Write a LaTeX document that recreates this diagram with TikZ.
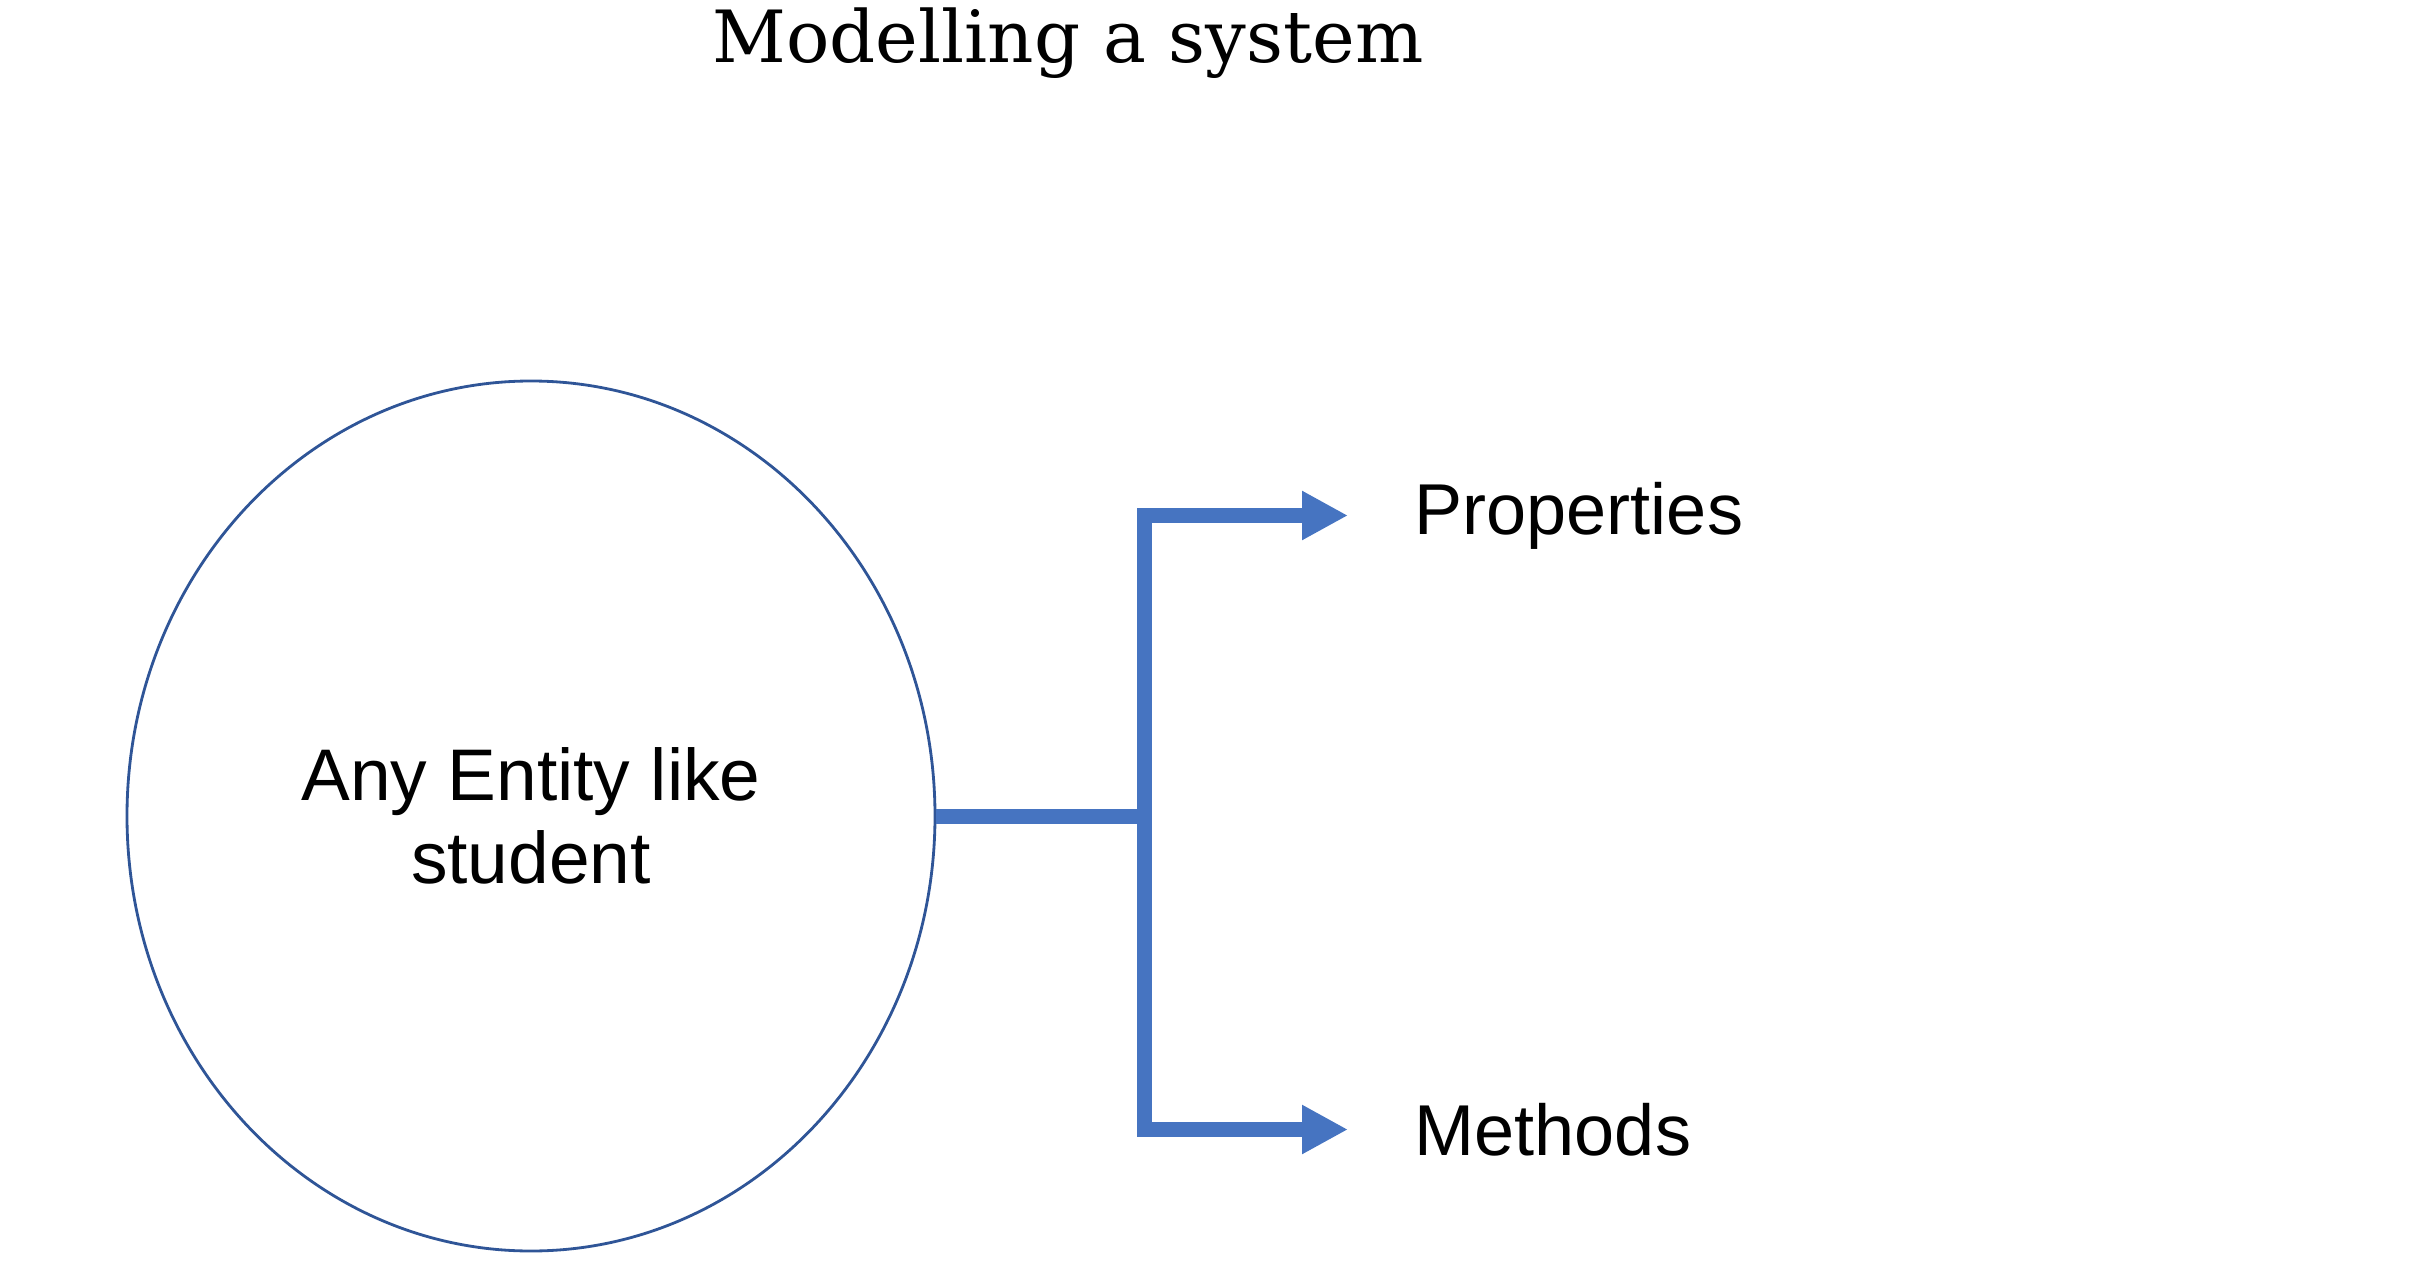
\documentclass[tikz,border=0pt]{standalone}
\usepackage{fontspec}
\setmainfont{DejaVu Serif}
\newfontfamily\labelfont{Liberation Sans}
\usepackage{tikz}
\usetikzlibrary{positioning, arrows.meta, shapes.geometric}
\definecolor{linkblue}{HTML}{4674C1}
\definecolor{rimblue}{HTML}{2F5597}

\begin{document}
\begin{tikzpicture}[
    entity/.style={ellipse, draw=rimblue, line width=0.8pt, minimum width=8.08cm, minimum height=8.70cm, inner sep=0pt, align=center, font=\labelfont\fontsize{20.8}{23.5}\selectfont},
    tag/.style={inner sep=0pt, font=\labelfont\fontsize{20.5}{24}\selectfont},
    link/.style={draw=linkblue, line width=0.15cm},
    tip/.style={-{Triangle[length=4.6mm, width=4.6mm]}}
]
\useasboundingbox (0,0) rectangle (24.28,12.78);

\node[anchor=base, font=\fontsize{20.5}{24}\selectfont] (title) at (10.68,12.15) {Modelling a system};

\node[entity] (ent) at (5.31,4.62) {Any Entity like\\student};

\coordinate (hub) at (11.44,4.62);
    \coordinate (ptip) at (13.48,7.625);
    \coordinate (mtip) at (13.48,1.485);

\node[tag, right=0.66cm of ptip] (props) {Properties};
    \node[tag, right=0.66cm of mtip] (meths) {Methods};

\draw[link, shorten >=-0.075cm] (ent.east) -- (hub);
    \draw[link, tip] (hub) |- (ptip);
    \draw[link, tip] (hub) |- (mtip);

\end{tikzpicture}
\end{document}
